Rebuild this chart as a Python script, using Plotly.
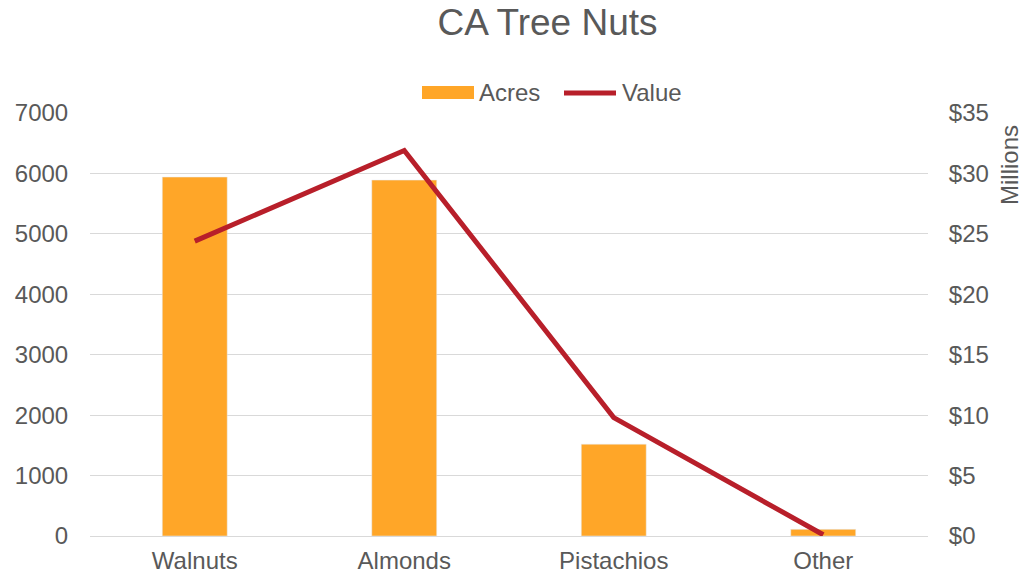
import plotly.graph_objects as go

categories = ["Walnuts", "Almonds", "Pistachios", "Other"]
acres = [5940, 5890, 1520, 110]
value_millions = [24.4, 31.9, 9.8, 0.1]
left_ticks = [0, 1000, 2000, 3000, 4000, 5000, 6000, 7000]
right_ticks = [0, 5, 10, 15, 20, 25, 30, 35]
right_labels = ["$" + str(v) for v in right_ticks]

BAR = "#FFA628"
LINE = "#B81F2A"
TXT = "#595959"
GRID = "#D9D9D9"
FONT = "Liberation Sans, Arial, sans-serif"

# page body has an 8px margin; compensate
O = 8
W, H = 1027 - O, 575 - O
L, R, T, B = 90 - O, 928 - O, 113 - O, 536 - O

def px(x):
    return (x - O - L) / (R - L)

def py(y):
    return (B - (y - O)) / (B - T)

fig = go.Figure()
fig.add_trace(go.Bar(x=categories, y=acres, name="Acres", marker_color=BAR,
                     width=0.31, showlegend=False))
fig.add_trace(go.Scatter(x=categories, y=value_millions, name="Value", yaxis="y2",
                         mode="lines", line=dict(color=LINE, width=5),
                         showlegend=False))

fig.update_layout(
    width=W, height=H,
    margin=dict(l=L, r=W - R, t=T, b=H - B, pad=0, autoexpand=False),
    paper_bgcolor="white", plot_bgcolor="white",
    font=dict(family=FONT, size=24, color=TXT),
    title=dict(text="CA Tree Nuts", font=dict(size=37, color=TXT, family=FONT),
               xref="container", yref="container", x=(547.5 - O) / W, y=1 - (22 - O) / H,
               xanchor="center", yanchor="middle"),
    xaxis=dict(showgrid=False, showline=True, linecolor=GRID, linewidth=1,
               ticks="outside", ticklen=3, tickcolor="rgba(0,0,0,0)", automargin=False,
               tickfont=dict(size=24, color=TXT)),
    yaxis=dict(range=[0, 7000], tickvals=left_ticks, showgrid=True, gridcolor=GRID,
               gridwidth=1, zeroline=False, showline=False, automargin=False,
               ticks="outside", ticklen=16, tickcolor="rgba(0,0,0,0)",
               tickfont=dict(size=24, color=TXT)),
    yaxis2=dict(range=[0, 35], overlaying="y", side="right", tickvals=right_ticks,
                ticktext=right_labels, showgrid=False, zeroline=False, showline=False,
                ticks="outside", ticklen=15, tickcolor="rgba(0,0,0,0)", automargin=False,
                tickfont=dict(size=24, color=TXT)),
)

# custom legend
fig.add_shape(type="rect", xref="paper", yref="paper",
              x0=px(422), x1=px(474), y0=py(99), y1=py(86),
              fillcolor=BAR, line=dict(width=0))
fig.add_annotation(text="Acres", xref="paper", yref="paper", x=px(477), y=py(93),
                   xanchor="left", yanchor="middle", showarrow=False,
                   font=dict(size=24, color=TXT, family=FONT))
fig.add_shape(type="line", xref="paper", yref="paper",
              x0=px(564), x1=px(616), y0=py(93), y1=py(93),
              line=dict(color=LINE, width=5))
fig.add_annotation(text="Value", xref="paper", yref="paper", x=px(620), y=py(93),
                   xanchor="left", yanchor="middle", showarrow=False,
                   font=dict(size=24, color=TXT, family=FONT))
fig.add_annotation(text="Millions", xref="paper", yref="paper", x=px(1010), y=py(165),
                   xanchor="center", yanchor="middle", textangle=-90, showarrow=False,
                   font=dict(size=24, color=TXT, family=FONT))

fig.write_html("out.html")
